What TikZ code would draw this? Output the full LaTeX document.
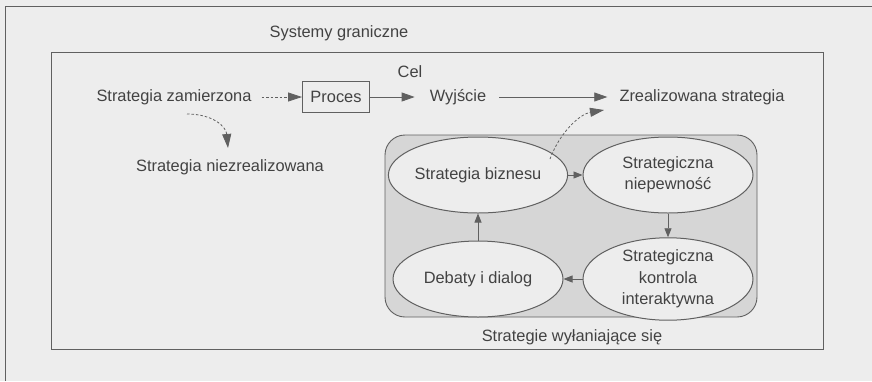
\documentclass[tikz,border=0pt]{standalone}
\usepackage{fontspec}
\setmainfont{Liberation Sans}
\usetikzlibrary{arrows.meta,shapes.geometric}
\definecolor{bg}{HTML}{EDEDED}
\definecolor{ink}{HTML}{424242}
\definecolor{linec}{HTML}{606060}
\definecolor{boxfill}{HTML}{D6D6D6}
\begin{document}
\begin{tikzpicture}[x=1pt,y=-1pt,
  font=\fontsize{16.4}{21.5}\selectfont,
  lbl/.style={inner sep=0pt, text=ink},
  ell/.style={ellipse, draw=linec, line width=1pt, fill=bg, text=ink,
    minimum width=170pt, minimum height=76pt, inner sep=0pt, align=center},
  arr/.style={-{Triangle[length=13pt,width=9pt]}, draw=linec, line width=0.8pt},
  sarr/.style={-{Triangle[length=9pt,width=7pt]}, draw=linec, line width=0.8pt},
  dsh/.style={draw=linec, line width=0.8pt, dash pattern=on 2.5pt off 2pt,
    -{Triangle[length=14pt,width=9pt]}}]
\useasboundingbox (0,0) rectangle (872,381);
\fill[bg] (0,0) rectangle (872,381);
\draw[linec, line width=0.8pt] (5,381) -- (5,6) -- (872,6);
\draw[linec, line width=1pt] (51,52) rectangle (823,349);
\draw[linec, line width=0.9pt, fill=boxfill, rounded corners=20pt] (385,135) rectangle (757,317);

\node[lbl] (sys) at (339,33) {Systemy graniczne};
\node[lbl] (zam) at (174,97) {Strategia zamierzona};
\node[draw=linec, line width=0.9pt, text=ink, minimum width=67pt, minimum height=31pt, inner sep=0pt] (proc) at (336,97) {Proces};
\node[lbl] (cel) at (410,72) {Cel};
\node[lbl] (wyj) at (458,97) {Wyjście};
\node[lbl] (zre) at (702,97) {Zrealizowana strategia};
\node[lbl] (niez) at (230,167) {Strategia niezrealizowana};
\node[ell] (biz) at (478,175) {Strategia biznesu};
\node[ell] (nie) at (668,175) {Strategiczna\\niepewność};
\node[ell] (deb) at (478,279) {Debaty i dialog};
\node[ell] (kon) at (668,279) {Strategiczna\\kontrola\\interaktywna};
\node[lbl] (wyl) at (572,337) {Strategie wyłaniające się};

\coordinate (z1) at (187,114);
\coordinate (z2) at (228,148);
\coordinate (e1) at (550,159);
\coordinate (e2) at (604,110);

\draw[dsh] ([xshift=10pt]zam.east) -- (proc.west);
\draw[arr] (proc.east) -- ([xshift=-15pt]wyj.west);
\draw[arr] ([xshift=13pt]wyj.east) -- ([xshift=-12pt]zre.west);
\draw[dsh] (z1) .. controls (212,114) and (226,126) .. (z2);
\draw[dsh] (e1) .. controls (560,132) and (580,114) .. (e2);

\draw[sarr] (biz) -- (nie);
\draw[sarr] (nie) -- (kon);
\draw[sarr] (kon) -- (deb);
\draw[sarr] (deb) -- (biz);
\end{tikzpicture}
\end{document}
